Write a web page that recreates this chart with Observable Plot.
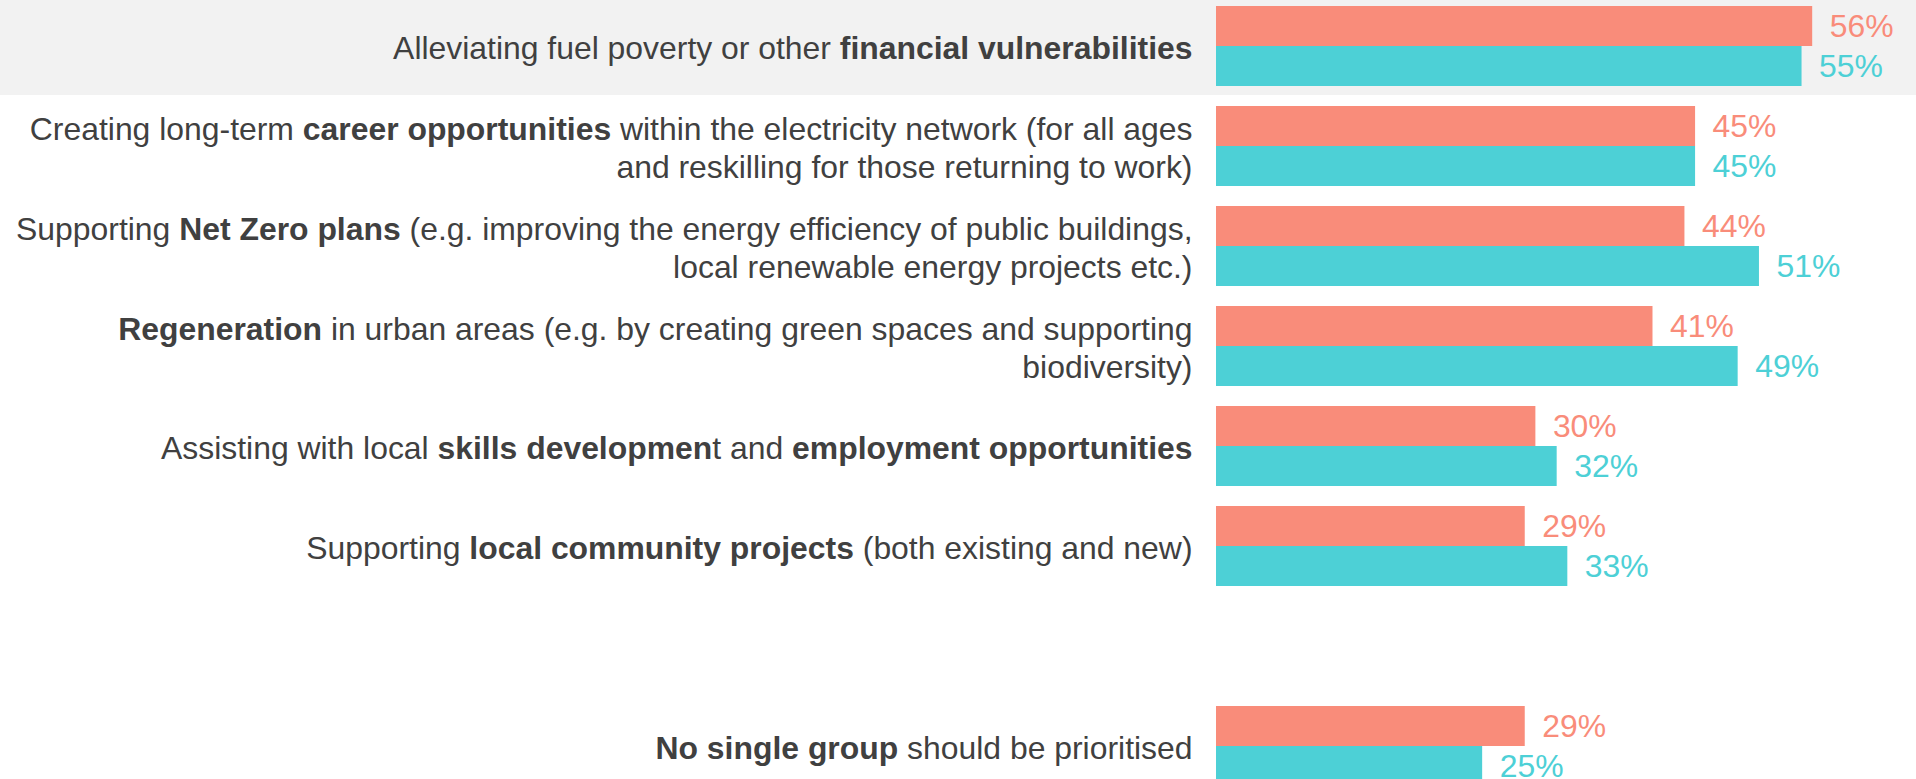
<!DOCTYPE html>
<html>
<head>
<meta charset="utf-8">
<script src="https://cdn.jsdelivr.net/npm/d3@7"></script>
<script src="https://cdn.jsdelivr.net/npm/@observablehq/plot@0.6"></script>
<style>
  html, body { margin: 0; padding: 0; background: #ffffff; overflow: hidden; }
  #chart svg { display: block; }
</style>
</head>
<body>
<div id="chart"></div>
<script>
// Categories (bold parts marked with **, line breaks with \n); "" is an empty spacer slot
const categories = [
  "Alleviating fuel poverty or other **financial vulnerabilities**",
  "Creating long-term **career opportunities** within the electricity network (for all ages\nand reskilling for those returning to work)",
  "Supporting **Net Zero plans** (e.g. improving the energy efficiency of public buildings,\nlocal renewable energy projects etc.)",
  "**Regeneration** in urban areas (e.g. by creating green spaces and supporting\nbiodiversity)",
  "Assisting with local **skills developmen**t and **employment opportunities**",
  "Supporting **local community projects** (both existing and new)",
  "",
  "**No single group** should be prioritised"
];
// Series values (percent)
const seriesPink = [56, 45, 44, 41, 30, 29, null, 29];
const seriesTeal = [55, 45, 51, 49, 32, 33, null, 25];
const highlighted = [categories[0]];

const PINK = "#f98c7a";
const TEAL = "#4dd0d6";
const TEXT = "#404040";

const rows = categories.map((c, i) => ({category: c, pink: seriesPink[i], teal: seriesTeal[i]}));
const pinkRows = rows.filter(d => d.pink != null);
const tealRows = rows.filter(d => d.teal != null);

const chart = Plot.plot({
  width: 1916,
  height: 779,
  marginLeft: 1216,
  marginRight: 8,
  marginTop: 0,
  marginBottom: 0,
  x: {domain: [0, 65], axis: null},
  y: {domain: categories, range: [6, 786], paddingInner: 0.2, paddingOuter: 0, axis: null},
  style: {fontFamily: "Arial, 'Liberation Sans', sans-serif", background: "#ffffff", overflow: "hidden"},
  marks: [
    Plot.barX(highlighted, {y: d => d, x1: 0, x2: 65, fill: "#f2f2f2",
      insetLeft: -1216, insetRight: -8, insetTop: -7, insetBottom: -9}),
    Plot.barX(pinkRows, {y: "category", x: "pink", fill: PINK, insetBottom: 40}),
    Plot.barX(tealRows, {y: "category", x: "teal", fill: TEAL, insetTop: 40}),
    Plot.text(pinkRows, {y: "category", x: "pink", text: d => d.pink + "%", dx: 17, dy: -20,
      textAnchor: "start", fill: PINK, fontSize: 31.9}),
    Plot.text(tealRows, {y: "category", x: "teal", text: d => d.teal + "%", dx: 17, dy: 20,
      textAnchor: "start", fill: TEAL, fontSize: 31.9}),
    Plot.text(rows.filter(d => d.category), {y: "category", text: "category", frameAnchor: "left",
      textAnchor: "end", dx: -24, fill: TEXT, fontSize: 31.9, lineHeight: 1.2})
  ]
});

// Turn **...** markup into bold tspans
function boldify(el) {
  const s = el.textContent;
  if (!s.includes("**")) return;
  el.textContent = "";
  s.split("**").forEach((part, i) => {
    if (!part) return;
    const t = document.createElementNS("http://www.w3.org/2000/svg", "tspan");
    if (i % 2) t.setAttribute("font-weight", "bold");
    t.textContent = part;
    el.appendChild(t);
  });
}
chart.querySelectorAll("text").forEach(text => {
  const tspans = Array.from(text.querySelectorAll("tspan"));
  if (tspans.length) tspans.forEach(boldify); else boldify(text);
});

document.getElementById("chart").appendChild(chart);
</script>
</body>
</html>
